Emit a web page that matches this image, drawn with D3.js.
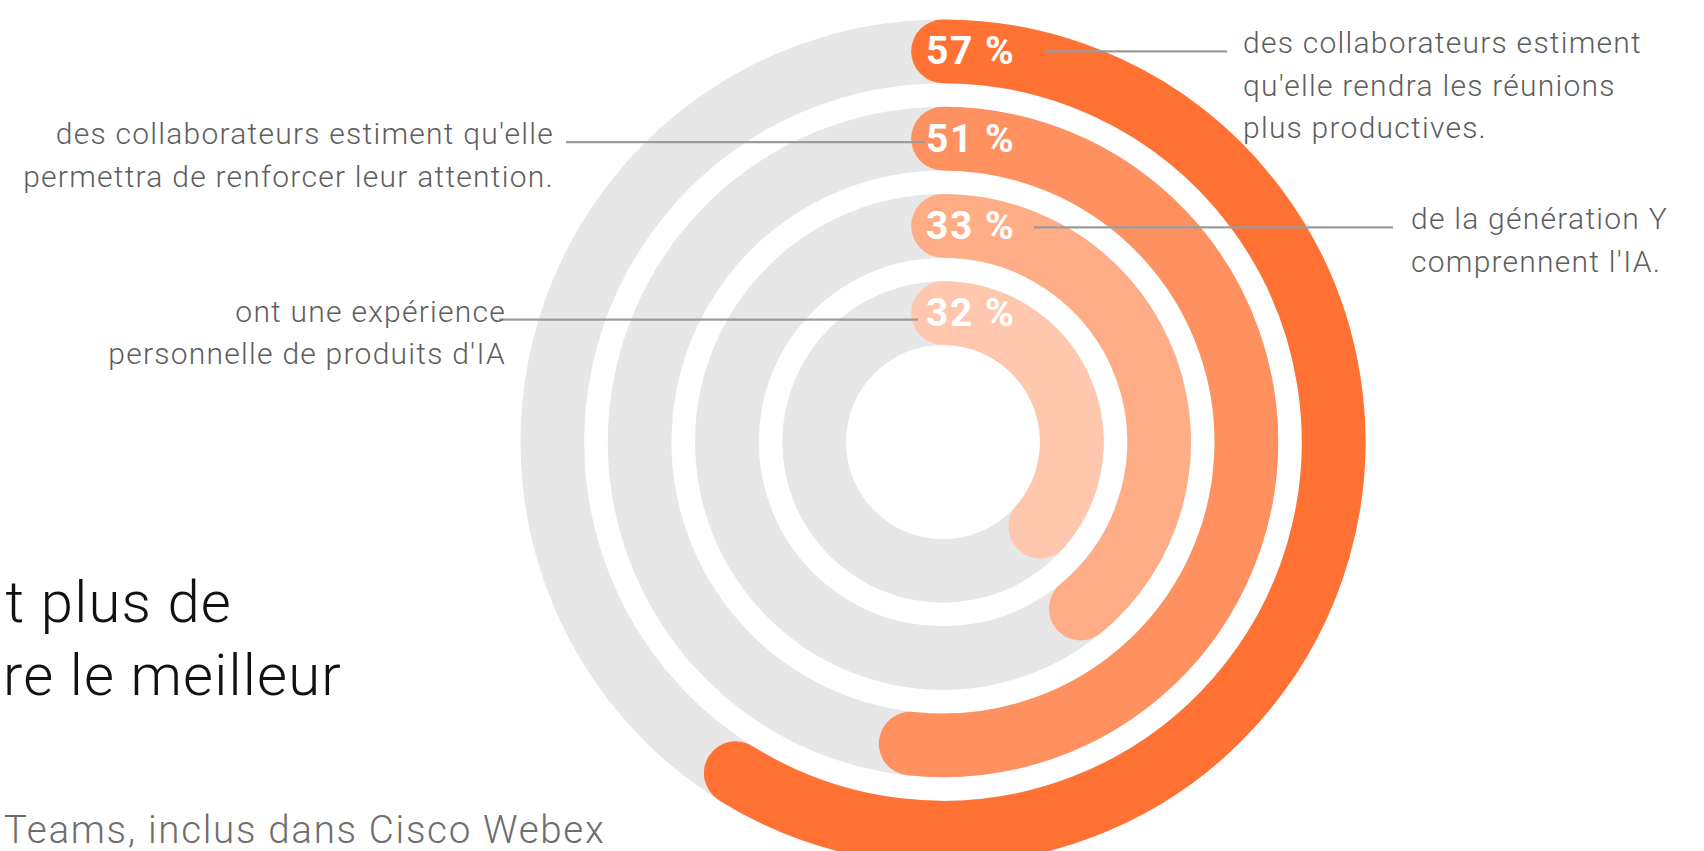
<!DOCTYPE html>
<html>
<head>
<meta charset="utf-8">
<script src="https://cdn.jsdelivr.net/npm/d3@7"></script>
<style>
  html, body { margin: 0; padding: 0; background: #fff; overflow: hidden; }
  svg { display: block; }
</style>
</head>
<body>
<svg id="chart" width="1704" height="851"></svg>
<script>
// ---------- data ----------
const categories = [
  "Réunions plus productives",
  "Attention renforcée",
  "Génération Y comprend l'IA",
  "Expérience personnelle de l'IA"
];
const values = [57, 51, 33, 32];
// share of the full circle covered by each drawn arc
const arcSweep = [0.589, 0.517, 0.390, 0.364];
const descriptions = [
  ["des collaborateurs estiment", "qu'elle rendra les réunions", "plus productives."],
  ["des collaborateurs estiment qu'elle", "permettra de renforcer leur attention."],
  ["de la génération Y", "comprennent l'IA."],
  ["ont une expérience", "personnelle de produits d'IA"]
];
const titleLines = ["t plus de", "re le meilleur"];
const footnote = "Teams, inclus dans Cisco Webex";

// ---------- style / layout ----------
const ringColors = ["#ff7234", "#ff9060", "#ffad86", "#ffc7ae"];
const trackColor = "#e7e7e7";
const cx = 943, cy = 442;
const leaderLayout = [
  { side: "right", x1: 1045, x2: 1227, tx: 1243 },
  { side: "left",  x1: 566,  x2: 925,  tx: 554 },
  { side: "right", x1: 1034, x2: 1393, tx: 1411 },
  { side: "left",  x1: 499,  x2: 918,  tx: 506 }
];
const leaderDy = [0, 3.5, 1.5, 6.5];

const svg = d3.select("#chart");

const idx = d3.range(values.length);
const rScale = d3.scaleBand()
  .domain(idx)
  .range([422.5, 97])
  .paddingInner(0.27)
  .paddingOuter(0);
const bw = rScale.bandwidth();
const angle = d3.scaleLinear().domain([0, 1]).range([0, 2 * Math.PI]);

const g = svg.append("g").attr("transform", `translate(${cx},${cy})`);

// grey tracks
const trackArc = d3.arc()
  .innerRadius(i => rScale(i))
  .outerRadius(i => rScale(i) + bw)
  .startAngle(0)
  .endAngle(angle(1));
g.selectAll("path.track")
  .data(idx)
  .join("path")
  .attr("class", "track")
  .attr("d", trackArc)
  .attr("fill", trackColor);

// value arcs (round caps)
function valuePath(i) {
  const r = rScale(i) + bw / 2;
  const a0 = -Math.PI / 2;
  const a1 = a0 + angle(arcSweep[i]);
  const p = d3.path();
  p.moveTo(r * Math.cos(a0), r * Math.sin(a0));
  p.arc(0, 0, r, a0, a1, false);
  return p.toString();
}
g.selectAll("path.value")
  .data(idx)
  .join("path")
  .attr("class", "value")
  .attr("d", valuePath)
  .attr("fill", "none")
  .attr("stroke", i => ringColors[i])
  .attr("stroke-width", bw)
  .attr("stroke-linecap", "round");

// leader lines
const midY = i => cy - (rScale(i) + bw / 2);
const lineY = i => midY(i) + leaderDy[i];
svg.selectAll("line.leader")
  .data(idx)
  .join("line")
  .attr("class", "leader")
  .attr("x1", i => leaderLayout[i].x1)
  .attr("x2", i => leaderLayout[i].x2)
  .attr("y1", lineY)
  .attr("y2", lineY)
  .attr("stroke", "#9b9b9b")
  .attr("stroke-width", 2.2);

// percent labels
svg.selectAll("text.pct")
  .data(idx)
  .join("text")
  .attr("class", "pct")
  .attr("x", cx - 17)
  .attr("y", i => midY(i) + 13)
  .attr("font-family", "Roboto, 'Noto Sans', sans-serif")
  .attr("font-weight", 700)
  .attr("font-size", 39)
  .attr("letter-spacing", 1.5)
  .attr("fill", "#ffffff")
  .text(i => `${values[i]} %`);

// description texts
const desc = svg.selectAll("text.desc")
  .data(idx)
  .join("text")
  .attr("class", "desc")
  .attr("text-anchor", i => leaderLayout[i].side === "left" ? "end" : "start")
  .attr("font-family", "Roboto, 'Noto Sans', sans-serif")
  .attr("font-weight", 300)
  .attr("font-size", 30)
  .attr("letter-spacing", 1.25)
  .attr("fill", "#5e5e5e");
desc.selectAll("tspan")
  .data(i => descriptions[i].map((t, k) => ({ t, k, i })))
  .join("tspan")
  .attr("x", d => leaderLayout[d.i].tx)
  .attr("y", d => lineY(d.i) + 2 + d.k * 42.5)
  .text(d => d.t);

// title fragment (cut at left edge)
svg.selectAll("text.title")
  .data(titleLines)
  .join("text")
  .attr("class", "title")
  .attr("x", (d, k) => k === 0 ? 232 : 342)
  .attr("y", (d, k) => 622 + k * 73)
  .attr("text-anchor", "end")
  .attr("font-family", "Roboto, 'Noto Sans', sans-serif")
  .attr("font-weight", 300)
  .attr("font-size", 58)
  .attr("letter-spacing", 1.2)
  .attr("fill", "#111111")
  .text(d => d);

svg.append("text")
  .attr("x", 4)
  .attr("y", 843)
  .attr("font-family", "Roboto, 'Noto Sans', sans-serif")
  .attr("font-weight", 300)
  .attr("font-size", 38.5)
  .attr("letter-spacing", 1.7)
  .attr("fill", "#6e6e6e")
  .text(footnote);
</script>
</body>
</html>
